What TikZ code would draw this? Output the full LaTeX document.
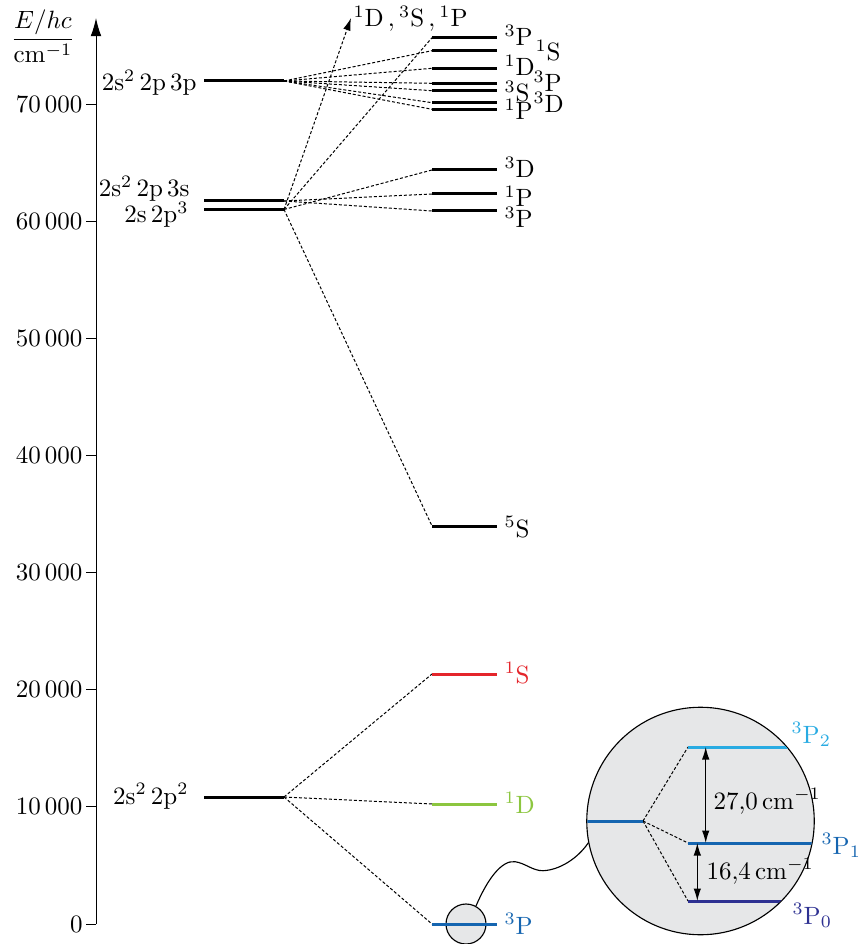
\documentclass[tikz,border=0pt]{standalone}
\usetikzlibrary{arrows.meta}
\definecolor{cRed}{HTML}{E4252B}
\definecolor{cGreen}{HTML}{8CC63F}
\definecolor{cBlue}{HTML}{1565B0}
\definecolor{cCyan}{HTML}{29ABE2}
\definecolor{cDark}{HTML}{2E3192}
\definecolor{cGray}{HTML}{E6E7E8}
\begin{document}
\begin{tikzpicture}[x=0.4pt,y=-0.4pt,
  lev/.style={line width=1.2pt},
  conn/.style={line width=0.4pt, dash pattern=on 1.2pt off 0.8pt},
  lab/.style={anchor=base west, inner sep=0pt},
  llab/.style={anchor=base east, inner sep=0pt},
  tickmark/.style={line width=0.4pt},
  dimarrow/.style={line width=0.45pt, {Latex[length=5pt,width=3pt]}-{Latex[length=5pt,width=3pt]}},
]
\useasboundingbox (0,0) rectangle (866,944);

% axis
\coordinate (ax0) at (96,924);
\coordinate (axT) at (96,18);
\draw[line width=0.4pt,-{Latex[length=7.3pt,width=4.3pt]}] (ax0) -- (axT);
\foreach \k/\t in {0/0,1/{10\,000},2/{20\,000},3/{30\,000},4/{40\,000},5/{50\,000},6/{60\,000},7/{70\,000}}{
  \pgfmathsetmacro\yy{924-117.14*\k}
  \coordinate (tk\k) at (96,\yy);
  \draw[tickmark] (tk\k) -- ++(-10,0);
  \node[anchor=east,inner sep=0pt] (tl\k) at (83,\yy) {\t};
}
\node[anchor=base,inner sep=0pt] (axlab) at (43,45.5) {$\displaystyle\frac{E/hc}{\mathrm{cm}^{-1}}$};

% left levels
\coordinate (Qa) at (204,81);    \coordinate (Qb) at (284,81);
\coordinate (Sa) at (204,201);   \coordinate (Sb) at (284,201);
\coordinate (Pa) at (204,209.5); \coordinate (Pb) at (284,209.5);
\coordinate (Ga) at (204,797);   \coordinate (Gb) at (284,797);

% right levels
\foreach \n/\y in {T1/37.7,T2/50.7,T3/68.3,T4/83.3,T5/90.7,T6/102.7,T7/109.3,M1/170,M2/194,M3/211,S5/526,R1/674,R2/804,R3/924}{
  \coordinate (\n a) at (432,\y);
  \coordinate (\n b) at (497,\y);
}
\coordinate (arrT) at (351,18);

% connectors
\foreach \n in {T2,T3,T4,T5,T6,T7} \draw[conn] (Qb) -- (\n a);
\draw[conn] (Pb) -- (T1a);
\draw[conn] (Pb) -- (M1a);
\draw[conn] (Sb) -- (M2a);
\draw[conn] (Sb) -- (M3a);
\draw[conn] (Pb) -- (S5a);
\draw[conn,-{Latex[length=5pt,width=3pt]}] (Pb) -- (arrT);
\foreach \n in {R1,R2,R3} \draw[conn] (Gb) -- (\n a);

% small circle
\node[circle,draw,fill=cGray,line width=0.45pt,minimum size=16pt,inner sep=0pt] (sc) at (466,924) {};

% level lines
\foreach \n in {Q,S,P,G} \draw[lev] (\n a) -- (\n b);
\foreach \n in {T1,T2,T3,T4,T5,T6,T7,M1,M2,M3,S5} \draw[lev] (\n a) -- (\n b);
\draw[lev,cRed] (R1a) -- (R1b);
\draw[lev,cGreen] (R2a) -- (R2b);
\draw[lev,cBlue] (R3a) -- (R3b);

% left labels
\node[llab] (lQ) at (197,91) {2s$^2$\,2p\,3p};
\node[llab] (lS) at (190,197) {2s$^2$\,2p\,3s};
\node[llab] (lP) at (189,223) {2s\,2p$^3$};
\node[llab] (lG) at (189,804) {2s$^2$\,2p$^2$};

% right labels
\node[lab] (lT1) at (504,46) {$^3$P};
\node[lab] (lT2) at (535,61) {$^1$S};
\node[lab] (lT3) at (504,76) {$^1$D};
\node[lab] (lT4) at (533,92) {$^3$P};
\node[lab] (lT5) at (504,102) {$^3$S};
\node[lab] (lT6) at (533,113) {$^3$D};
\node[lab] (lT7) at (504,119.5) {$^1$P};
\node[lab] (lM1) at (504,178) {$^3$D};
\node[lab] (lM2) at (504,207) {$^1$P};
\node[lab] (lM3) at (504,228) {$^3$P};
\node[lab] (lS5) at (504,537) {$^5$S};
\node[lab,text=cRed] (lR1) at (504,683) {$^1$S};
\node[lab,text=cGreen] (lR2) at (504,813) {$^1$D};
\node[lab,text=cBlue] (lR3) at (504,934) {$^3$P};
\node[lab] (lArr) at (353,27) {$^1\mathrm{D}\,,{}^3\mathrm{S}\,,{}^1\mathrm{P}$};

% big circle
\node[circle,draw,fill=cGray,line width=0.45pt,minimum size=91pt,inner sep=0pt] (bc) at (700.5,821) {};
\coordinate (bl) at (643,821);
\coordinate (P2a) at (688,747);
\coordinate (P1a) at (688,843);
\coordinate (P0a) at (688,901);
\begin{scope}
  \clip (bc.center) circle[radius=45.3pt];
  \draw[conn] (bl) -- (P2a);
  \draw[conn] (bl) -- (P1a);
  \draw[conn] (bl) -- (P0a);
  \draw[lev,cBlue] (560,821) -- (bl);
  \draw[lev,cCyan] (P2a) -- ++(140,0);
  \draw[lev,cBlue] (P1a) -- ++(140,0);
  \draw[lev,cDark] (P0a) -- ++(140,0);
\end{scope}
\coordinate (d1t) at (705.7,747);
\coordinate (d1b) at (705.7,843);
\coordinate (d2t) at (697.3,843);
\coordinate (d2b) at (697.3,901);
\draw[dimarrow] (d1t) -- (d1b);
\draw[dimarrow] (d2t) -- (d2b);
\node[lab] (n27) at (713,809) {$27{,}0\,\mathrm{cm}^{-1}$};
\node[lab] (n16) at (706,879) {$16{,}4\,\mathrm{cm}^{-1}$};
\node[lab,text=cCyan] (lP2) at (791,743) {$^3$P$_2$};
\node[lab,text=cBlue] (lP1) at (821,854) {$^3$P$_1$};
\node[lab,text=cDark] (lP0) at (792,924) {$^3$P$_0$};

% connecting curve
\draw[line width=0.45pt] (sc.61) .. controls (488,878) and (502,860) .. (515,861.7)
  .. controls (525,863) and (533,871) .. (543,870.7)
  .. controls (560,870) and (578,858) .. (bc.191);
\end{tikzpicture}
\end{document}
